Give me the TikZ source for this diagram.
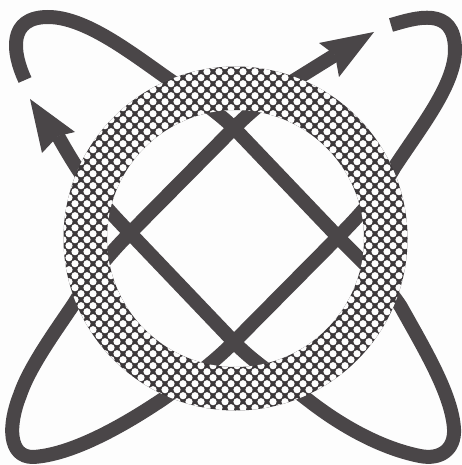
\documentclass[tikz,border=0pt]{standalone}
\definecolor{ink}{HTML}{4A4648}
\definecolor{ringink}{HTML}{3C383A}
\definecolor{paper}{HTML}{FDFDFD}
\tikzset{
  strand/.style={draw=ink,line width=14pt,line cap=butt,line join=round},
  head/.style={fill=ink,draw=none},
  ringdot/.style={fill=paper,draw=none}
}
\begin{document}
\begin{tikzpicture}[x=1pt,y=-1pt]
\useasboundingbox (0,0) rectangle (462,465);
\fill[paper] (0,0) rectangle (462,465);
% strand from the upper-left end round the lower right to the upper-left arrow
\draw[strand] (25,80) .. controls (12,52) and (8,17) .. (48,17)
  .. controls (85,17) and (130,52) .. (167,78)
  .. controls (190,94) and (212,107) .. (234,128)
  -- (338,237)
  .. controls (362,262) and (385,282) .. (401,307)
  .. controls (425,350) and (452,395) .. (454,429)
  .. controls (455,450) and (440,460) .. (420,456)
  .. controls (380,448) and (340,425) .. (308,400)
  .. controls (285,382) and (256,365) .. (234,342)
  -- (130,233)
  .. controls (108,210) and (88,190) .. (58,136);
% strand from the upper-right end round the lower left to the upper-right arrow
\draw[strand] (391,25) .. controls (415,18) and (455,5) .. (455,50)
  .. controls (455,85) and (420,128) .. (394,168)
  .. controls (382,190) and (360,215) .. (338,237)
  -- (234,342)
  .. controls (212,364) and (190,380) .. (163,399)
  .. controls (120,428) and (70,455) .. (33,457)
  .. controls (8,457) and (8,425) .. (20,395)
  .. controls (30,365) and (60,325) .. (75,302)
  .. controls (88,280) and (108,255) .. (130,233)
  -- (234,128)
  .. controls (255,107) and (275,92) .. (298,78)
  -- (335,55);
\fill[head] (30,99) -- (75,132) -- (58,136) -- (42,153) -- cycle;
\fill[head] (374,32) -- (319,43) -- (335,55) -- (339,77) -- cycle;
\fill[ringink,even odd rule] (235.5,238.5) circle[radius=172pt] (235.5,238.5) circle[radius=128.5pt];
\begin{scope}[even odd rule]
\clip (235.5,238.5) circle[radius=172pt] (235.5,238.5) circle[radius=128.5pt];
\foreach \r in {-25,...,38}{
  \pgfmathsetmacro{\yy}{191.7+6*\r}
  \pgfmathsetmacro{\off}{mod(\r+100,2)*6}
  \foreach \c in {-2,...,28}{
    \fill[ringdot] ({75+12*\c-12+\off},\yy) circle[radius=3.6pt];
  }
}
\end{scope}
\end{tikzpicture}
\end{document}
